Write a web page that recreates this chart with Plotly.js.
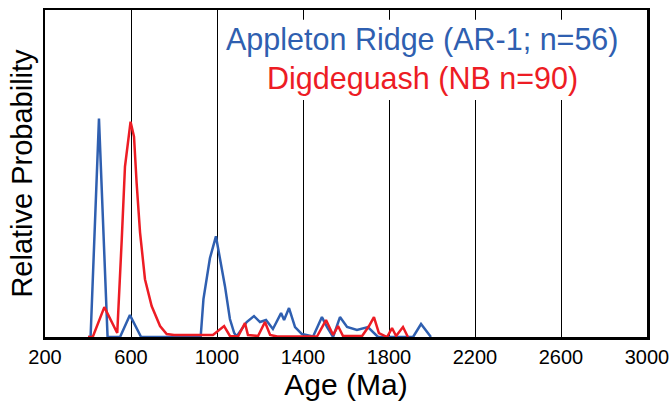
<!DOCTYPE html>
<html>
<head>
<meta charset="utf-8">
<script src="https://cdn.plot.ly/plotly-3.0.1.min.js"></script>
<style>html,body{margin:0;padding:0;background:#fff;}#chart{width:670px;height:405px;}</style>
</head>
<body>
<div id="chart"></div>
<script>
// Appleton Ridge (AR-1; n=56) probability curve
const arAge = [400, 412, 451, 491, 549, 595, 647, 924, 937, 967, 995, 1037, 1060, 1080, 1091, 1138, 1172, 1200, 1228, 1260, 1298, 1312, 1335, 1363, 1395, 1447, 1488, 1512, 1540, 1572, 1605, 1651, 1702, 1726, 1749, 1912, 1949, 1995];
const arProb = [0, 0, 219, 0, 0, 22, 0, 0, 38, 79, 101, 51, 18, 4, 0.5, 15, 21, 15, 17, 8, 24, 17, 29, 10, 3, 0.5, 20, 10, 0, 20, 10, 7, 10, 5, 0, 0, 13, 0];

// Digdeguash (NB n=90) probability curve
const nbAge = [400, 422, 476, 536, 557, 572, 598, 614, 626, 642, 665, 696, 735, 766, 800, 900, 981, 1033, 1060, 1098, 1130, 1144, 1191, 1223, 1247, 1280, 1465, 1507, 1540, 1563, 1586, 1675, 1707, 1730, 1753, 1791, 1814, 1833, 1865, 1888];
const nbProb = [0, 0, 30, 4, 98, 171, 216, 201, 155, 105, 58, 31, 11, 3, 2, 2, 2, 11, 1, 0.5, 14, 2, 1, 15, 2, 0.5, 0.5, 17, 2, 11, 1, 1, 11, 20, 4, 0, 9, 1, 10, 0];

const tickVals = [200, 600, 1000, 1400, 1800, 2200, 2600, 3000];
const tickText = ['200', '600', '1000', '1400', '1800', '2200', '2600', '3000'];

const seriesNames = ['Appleton Ridge (AR-1; n=56)', 'Digdeguash (NB n=90)'];
const blue = '#2f5fb0';
const red = '#ed1c24';

const traces = [
  {x: arAge, y: arProb, name: seriesNames[0], type: 'scatter', mode: 'lines',
   line: {color: blue, width: 2.5}},
  {x: nbAge, y: nbProb, name: seriesNames[1], type: 'scatter', mode: 'lines',
   line: {color: red, width: 2.5}}
];

const font = 'Liberation Sans, Arial, sans-serif';

const layout = {
  width: 670, height: 405,
  margin: {l: 45, r: 23, t: 10, b: 68},
  paper_bgcolor: '#fff', plot_bgcolor: '#fff',
  showlegend: false,
  font: {family: font, color: '#000'},
  xaxis: {
    range: [200, 3000], tickmode: 'array', tickvals: tickVals, ticktext: tickText,
    showgrid: true, gridcolor: '#000', gridwidth: 1,
    showline: true, mirror: true, linecolor: '#000', linewidth: 2.5,
    ticks: '', zeroline: false,
    tickfont: {size: 20, family: font, color: '#000'},
    title: {text: 'Age (Ma)', font: {size: 30, family: font, color: '#000'}, standoff: 2}
  },
  yaxis: {
    range: [0, 328], showticklabels: false, ticks: '', showgrid: false, zeroline: false,
    showline: true, mirror: true, linecolor: '#000', linewidth: 2.5,
    title: {text: 'Relative Probability', font: {size: 29, family: font, color: '#000'}, standoff: 2}
  },
  shapes: [
    {type: 'rect', xref: 'x', yref: 'paper', x0: 1050, x1: 2985, y0: 0.725, y1: 0.97,
     fillcolor: '#fff', line: {width: 0}, layer: 'above'}
  ],
  annotations: [
    {xref: 'paper', yref: 'paper', x: 0.627, y: 0.91, text: seriesNames[0], showarrow: false,
     xanchor: 'center', yanchor: 'middle', font: {size: 30.5, family: font, color: blue}},
    {xref: 'paper', yref: 'paper', x: 0.627, y: 0.79, text: seriesNames[1], showarrow: false,
     xanchor: 'center', yanchor: 'middle', font: {size: 30.5, family: font, color: red}}
  ]
};

Plotly.newPlot('chart', traces, layout, {displayModeBar: false, staticPlot: true});
</script>
</body>
</html>
